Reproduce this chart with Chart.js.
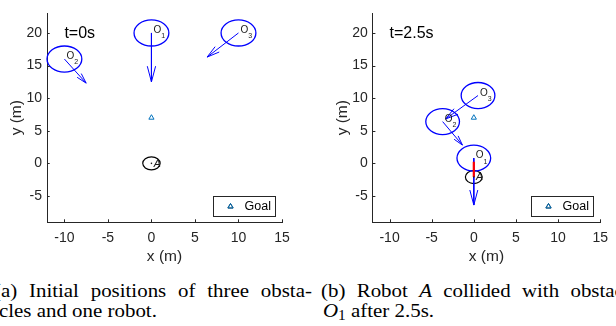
<!DOCTYPE html>
<html>
<head>
<meta charset="utf-8">
<script src="https://cdn.jsdelivr.net/npm/chart.js@4.4.1/dist/chart.umd.min.js"></script>
<style>
  html, body { margin: 0; padding: 0; background: #fff; }
  body { width: 616px; height: 326px; overflow: hidden; position: relative; }
  canvas { position: absolute; top: 0; }
  #c1 { left: 0; }
  #c2 { left: 310px; }
  .cap { position: absolute; font-family: 'Liberation Serif', 'Times New Roman', serif; font-size: 19px;
         line-height: 20px; white-space: nowrap; color: #000; transform: scaleX(1.1); transform-origin: 0 0; }
  .just { text-align: justify; text-align-last: justify; white-space: normal; }
  .cap sub { font-size: 14px; vertical-align: -3px; line-height: 0; }
</style>
</head>
<body>
<canvas id="c1" width="308" height="270"></canvas>
<canvas id="c2" width="306" height="270"></canvas>
<div class="cap just" style="left:-6px; top:280.6px; width:289px;">(a) Initial positions of three obsta-</div>
<div class="cap" style="left:-1px; top:300.6px;">cles and one robot.</div>
<div class="cap just" style="left:321px; top:280.6px; width:289px;">(b) Robot <i>A</i> collided with obstacle</div>
<div class="cap" style="left:323px; top:300.6px;"><i>O</i><sub>1</sub> after 2.5s.</div>
<script>
// ---------- data ----------
const xTicks = [-10, -5, 0, 5, 10, 15];
const yTicks = [-5, 0, 5, 10, 15, 20];
const xRange = [-12, 15];
const yRange = [-9, 23];
const goalX = [0];
const goalY = [7];
const goalLabel = 'Goal';
const obstacleIds = ['1', '2', '3'];
const obstacleRadius = 2;
const robotRadius = 1;
const robotName = 'A';

// panel (a): t = 0 s
const aTime = 't=0s';
const aTimePos = [-10, 20];
const aObsX = [0, -10, 10];
const aObsY = [20, 16, 20];
const aTipX = [0, -7.5, 6.4];
const aTipY = [12.5, 12.3, 16.3];
const aRobotX = 0;
const aRobotY = 0;

// panel (b): t = 2.5 s
const bTime = 't=2.5s';
const bTimePos = [-10, 20];
const bObsX = [0, -3.7, 0.5];
const bObsY = [0.8, 6.4, 10.4];
const bTipX = [0, -1.35, -3.35];
const bTipY = [-6.4, 2.8, 6.8];
const bRobotX = 0;
const bRobotY = -2.1;
const bHitX = [0, 0];
const bHitY = [-2.1, 0.25];

// ---------- styling ----------
const FONT = "'Liberation Sans', Arial, Helvetica, sans-serif";
const AXIS = '#262626';
const BLUE = '#0000FF';
const GOALC = '#0072BD';

function arrowHead(ctx, x0, y0, x1, y1) {
  const dx = x1 - x0, dy = y1 - y0, L = Math.hypot(dx, dy);
  if (!L) return;
  const ux = dx / L, uy = dy / L;
  const hl = 0.32 * L, hw = 0.085 * L;
  const bx = x1 - ux * hl, by = y1 - uy * hl;
  ctx.beginPath();
  ctx.moveTo(bx - uy * hw, by + ux * hw);
  ctx.lineTo(x1, y1);
  ctx.lineTo(bx + uy * hw, by - ux * hw);
  ctx.stroke();
}

function makePanel(id, p, padLeft, padRight) {
  const scene = {
    id: 'scene',
    beforeDatasetsDraw(chart) {
      const { ctx, scales: { x, y } } = chart;
      const rx = r => Math.abs(x.getPixelForValue(r) - x.getPixelForValue(0));
      const ry = r => Math.abs(y.getPixelForValue(r) - y.getPixelForValue(0));
      ctx.save();
      // robot
      ctx.strokeStyle = '#000';
      ctx.lineWidth = 1.2;
      ctx.beginPath();
      ctx.ellipse(x.getPixelForValue(p.robotX), y.getPixelForValue(p.robotY), rx(robotRadius), ry(robotRadius), 0, 0, Math.PI * 2);
      ctx.stroke();
      // obstacles
      ctx.strokeStyle = BLUE;
      ctx.lineWidth = 1.3;
      p.obsX.forEach((ox, i) => {
        ctx.beginPath();
        ctx.ellipse(x.getPixelForValue(ox), y.getPixelForValue(p.obsY[i]), rx(obstacleRadius), ry(obstacleRadius), 0, 0, Math.PI * 2);
        ctx.stroke();
      });
      ctx.restore();
    },
    afterDatasetsDraw(chart) {
      const { ctx, scales: { x, y } } = chart;
      ctx.save();
      // arrow heads
      ctx.strokeStyle = BLUE;
      ctx.lineWidth = 1;
      p.obsX.forEach((ox, i) => {
        arrowHead(ctx, x.getPixelForValue(ox), y.getPixelForValue(p.obsY[i]),
                  x.getPixelForValue(p.tipX[i]), y.getPixelForValue(p.tipY[i]));
      });
      // obstacle labels
      ctx.fillStyle = '#1a1a1a';
      ctx.textBaseline = 'middle';
      ctx.textAlign = 'left';
      p.obsX.forEach((ox, i) => {
        const px = x.getPixelForValue(ox), py = y.getPixelForValue(p.obsY[i]);
        ctx.font = '10px ' + FONT;
        ctx.fillText('O', px + 2, py - 2.5);
        const w = ctx.measureText('O').width;
        ctx.font = '7px ' + FONT;
        ctx.fillText(obstacleIds[i], px + 2 + w, py + 3.5);
      });
      // robot label
      const rpx = x.getPixelForValue(p.robotX), rpy = y.getPixelForValue(p.robotY);
      ctx.beginPath();
      ctx.arc(rpx, rpy, 0.8, 0, Math.PI * 2);
      ctx.fill();
      ctx.font = 'italic 10.5px ' + FONT;
      ctx.fillText(robotName, rpx + 2.2, rpy + 0.5);
      // time label
      ctx.font = '16px ' + FONT;
      ctx.fillStyle = '#000';
      ctx.fillText(p.time, x.getPixelForValue(p.timePos[0]), y.getPixelForValue(p.timePos[1]) + 1);
      ctx.restore();
    },
    afterDraw(chart) {
      const { ctx, scales: { x, y }, chartArea: a } = chart;
      ctx.save();
      // inward tick marks
      ctx.strokeStyle = AXIS;
      ctx.lineWidth = 1;
      ctx.beginPath();
      x.ticks.forEach(t => {
        const px = Math.round(x.getPixelForValue(t.value)) + 0.5;
        ctx.moveTo(px, a.bottom);
        ctx.lineTo(px, a.bottom - 2.7);
      });
      y.ticks.forEach(t => {
        const py = Math.round(y.getPixelForValue(t.value)) + 0.5;
        ctx.moveTo(a.left, py);
        ctx.lineTo(a.left + 2.7, py);
      });
      ctx.stroke();
      // legend box
      const ds = chart.data.datasets.find(d => d.label);
      const bw = 62, bh = 20;
      const bx = Math.round(a.right - 7 - bw) + 0.5, by = Math.round(a.bottom - 6 - bh) + 0.5;
      ctx.fillStyle = '#fff';
      ctx.fillRect(bx, by, bw, bh);
      ctx.strokeStyle = AXIS;
      ctx.lineWidth = 1;
      ctx.strokeRect(bx, by, bw, bh);
      Chart.helpers.drawPoint(ctx, { pointStyle: ds.pointStyle, radius: ds.pointRadius, borderWidth: ds.borderWidth, rotation: 0 }, bx + 17, by + bh / 2);
      ctx.strokeStyle = ds.borderColor;
      ctx.lineWidth = ds.borderWidth;
      ctx.stroke();
      ctx.fillStyle = '#000';
      ctx.font = '12.5px ' + FONT;
      ctx.textBaseline = 'middle';
      ctx.textAlign = 'left';
      ctx.fillText(ds.label, bx + 31, by + bh / 2 + 0.5);
      ctx.restore();
    }
  };

  const datasets = [];
  if (p.hitX) {
    datasets.push({ type: 'line', data: p.hitX.map((v, i) => ({ x: v, y: p.hitY[i] })),
      borderColor: '#FF0000', borderWidth: 2.2, pointRadius: 0, fill: false });
  }
  datasets.push({ label: goalLabel, data: goalX.map((v, i) => ({ x: v, y: goalY[i] })),
    pointStyle: 'triangle', pointRadius: 3, borderColor: GOALC, backgroundColor: 'rgba(0,0,0,0)', borderWidth: 1 });
  p.obsX.forEach((ox, i) => {
    datasets.push({ type: 'line', data: [{ x: ox, y: p.obsY[i] }, { x: p.tipX[i], y: p.tipY[i] }],
      borderColor: BLUE, borderWidth: 1, pointRadius: 0, fill: false });
  });

  new Chart(document.getElementById(id), {
    type: 'scatter',
    data: { datasets },
    plugins: [scene],
    options: {
      responsive: false,
      animation: false,
      layout: { padding: { left: padLeft, right: padRight, top: 7, bottom: 0 } },
      plugins: { legend: { display: false }, tooltip: { enabled: false } },
      scales: {
        x: {
          type: 'linear', min: xRange[0], max: xRange[1],
          afterBuildTicks: s => { s.ticks = xTicks.map(v => ({ value: v })); },
          afterFit: s => { s.height = 48; },
          grid: { display: false, drawTicks: false },
          border: { display: true, color: AXIS, width: 1 },
          ticks: { font: { family: FONT, size: 14 }, color: AXIS, padding: 8, maxRotation: 0, autoSkip: false },
          title: { display: true, text: 'x (m)', font: { family: FONT, size: 15.5 }, color: AXIS, padding: { top: 0, bottom: 4 } }
        },
        y: {
          type: 'linear', min: yRange[0], max: yRange[1],
          afterBuildTicks: s => { s.ticks = yTicks.map(v => ({ value: v })); },
          afterFit: s => { s.width = 47; },
          grid: { display: false, drawTicks: false },
          border: { display: true, color: AXIS, width: 1 },
          ticks: { font: { family: FONT, size: 14 }, color: AXIS, padding: 5, autoSkip: false },
          title: { display: true, text: 'y (m)', font: { family: FONT, size: 15.5 }, color: AXIS, padding: { top: 7.4, bottom: 0 } }
        }
      }
    }
  });
}

makePanel('c1', { time: aTime, timePos: aTimePos, obsX: aObsX, obsY: aObsY, tipX: aTipX, tipY: aTipY,
                  robotX: aRobotX, robotY: aRobotY }, 0, 26);
makePanel('c2', { time: bTime, timePos: bTimePos, obsX: bObsX, obsY: bObsY, tipX: bTipX, tipY: bTipY,
                  robotX: bRobotX, robotY: bRobotY, hitX: bHitX, hitY: bHitY }, 15.7, 9.3);
</script>
</body>
</html>
